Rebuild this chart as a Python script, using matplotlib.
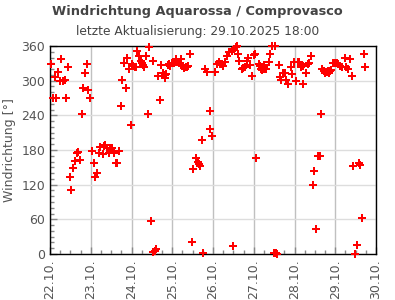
import matplotlib
matplotlib.use('Agg')
import matplotlib.pyplot as plt
import matplotlib.dates as mdates
from matplotlib.ticker import MultipleLocator
import pandas as pd

# hours since 22.10.2025 00:00 / wind direction in degrees
stunden = [0.6, 1.9, 3.1, 3.7, 4.9, 6.1, 6.5, 7.5, 9.0, 9.6, 10.8,
           12.0, 12.6, 13.7, 14.9, 15.9, 16.5, 17.9, 19.0, 19.6, 20.8, 22.0, 22.6, 23.8,
           24.9, 25.7, 26.7, 27.9, 29.1, 29.7, 31.1, 32.0, 32.6, 33.6, 34.8, 35.4, 36.6,
           37.9, 39.1, 39.7, 40.9, 42.0, 42.6, 43.8, 45.0, 45.6, 46.8, 47.9,
           48.5, 49.1, 50.3, 50.9, 51.5, 52.7, 53.8, 54.4, 55.0, 55.6, 56.8, 58.0, 58.6,
           59.7, 60.9, 60.9, 62.1, 62.7, 63.9, 64.5, 65.6, 66.6, 67.8, 67.8, 68.4,
           69.6, 70.2, 70.8, 71.9, 73.1, 73.7, 74.3, 74.9, 76.1, 76.7, 77.3, 77.8,
           79.0, 80.2, 80.8, 81.4, 82.7, 83.9, 84.5, 85.7, 86.9, 87.5, 88.6, 89.8,
           90.4, 91.2, 92.4, 94.0, 94.5, 95.7, 96.9, 98.1, 99.3, 100.4, 101.4, 102.0,
           103.2, 104.5, 105.7, 106.9, 107.5, 108.1, 109.3, 109.9, 110.5, 111.6, 112.8,
           113.4, 114.6, 115.8, 116.4, 117.5, 118.7, 119.9, 120.5, 121.1, 122.8, 123.4,
           124.0, 124.6, 125.2, 125.8, 126.3, 126.9, 127.5, 128.7, 129.3, 130.5, 131.7,
           132.8, 132.9, 133.4, 134.6, 135.2, 135.6, 136.2, 137.4, 138.6, 139.2, 140.3,
           141.7, 142.3, 143.5, 144.6, 145.8, 146.4, 147.6, 148.8, 148.8, 150.6, 151.7,
           152.3, 153.5, 154.7, 155.3, 156.4, 157.6, 158.8, 159.4, 160.0, 161.2, 161.8,
           162.9, 163.5, 164.1, 164.7, 165.3, 166.5, 167.7, 168.8, 169.4, 171.0, 172.2,
           173.6, 174.6, 175.3, 176.5, 177.7, 178.3, 179.4, 180.6, 181.8, 182.4, 183.6,
           184.8, 185.4]
richtung = [328, 270, 306, 270, 315, 300, 337, 300, 302, 270, 323,
            133, 110, 148, 161, 175, 177, 163, 242, 287, 314, 328, 283, 270,
            178, 157, 133, 141, 174, 185, 173, 187, 189, 183, 174, 183, 183,
            174, 157, 157, 178, 256, 302, 330, 287, 340, 320, 224,
            328, 325, 323, 323, 351, 342, 334, 330, 327, 323, 342, 242, 359,
            57, 334, 4, 6, 8, 308, 266, 327, 313, 309, 304, 311,
            327, 328, 325, 330, 331, 333, 337, 333, 330, 330, 337, 325,
            322, 323, 323, 325, 346, 20, 147, 167, 160, 155, 152, 197,
            1, 320, 315, 247, 216, 205, 315, 328, 332, 328, 328, 325,
            332, 342, 349, 351, 13, 354, 358, 360, 346, 334, 320,
            322, 323, 334, 339, 327, 308, 344, 346, 167, 328, 325,
            321, 318, 320, 327, 323, 321, 320, 332, 347, 360, 1,
            360, 1, 0, 327, 306, 306, 302, 313, 314, 302, 295,
            323, 311, 332, 299, 332, 332, 323, 325, 295, 314, 328,
            330, 342, 119, 143, 43, 169, 169, 242, 320, 316, 313,
            315, 316, 313, 316, 318, 330, 330, 330, 328, 325, 323,
            339, 323, 321, 337, 308, 152, 0, 15, 157, 154, 62,
            346, 323]

start = pd.Timestamp('2025-10-22 00:00')
zeit = [start + pd.Timedelta(hours=h) for h in stunden]
grau = '#444444'

fig = plt.figure(figsize=(3.95, 3.0), dpi=100)
ax = fig.add_axes([50/395, 46/300, 326/395, 208/300])

ax.plot(zeit, richtung, linestyle='none', marker='P', markersize=5.3,
        color='#ff0000', markeredgewidth=0, clip_on=False, zorder=3)

ax.set_xlim(start, start + pd.Timedelta(days=8))
ax.set_ylim(0, 360)
ax.yaxis.set_major_locator(MultipleLocator(60))
ax.yaxis.set_minor_locator(MultipleLocator(10))
ax.xaxis.set_major_locator(mdates.DayLocator())
ax.xaxis.set_minor_locator(mdates.HourLocator(byhour=[6, 12, 18]))
ax.xaxis.set_major_formatter(mdates.DateFormatter('%d.%m.'))

ax.grid(axis='x', which='major', color='#c0c0c0', linewidth=1)
ax.grid(axis='y', which='major', color='#dddddd', linewidth=1)
ax.set_axisbelow(True)

ax.tick_params(which='both', direction='in', colors='#888888', labelcolor='#555555', labelsize=9)
ax.tick_params(which='major', length=5, width=1)
ax.tick_params(which='minor', length=3, width=1)
ax.tick_params(axis='x', labelrotation=90, pad=4)
for s in ax.spines.values():
    s.set_color('black')
    s.set_linewidth(1)

ax.set_ylabel('Windrichtung [°]', fontsize=9, color='#555555', labelpad=4)

fig.text(0.5, 1 - 11/300, 'Windrichtung Aquarossa / Comprovasco', ha='center', va='center',
         fontsize=9.3, fontweight='bold', color=grau)
fig.text(0.5, 1 - 31/300, 'letzte Aktualisierung: 29.10.2025 18:00', ha='center', va='center',
         fontsize=8.8, color=grau)

fig.savefig('out.png', dpi=100)
